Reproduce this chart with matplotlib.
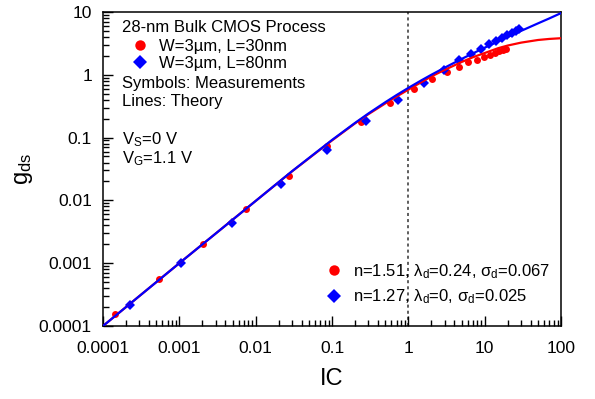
import matplotlib
matplotlib.use('Agg')
import matplotlib.pyplot as plt
import numpy as np
from matplotlib.lines import Line2D

plt.rcParams['font.family'] = ['Liberation Sans', 'DejaVu Sans']
plt.rcParams['mathtext.fontset'] = 'custom'
plt.rcParams['mathtext.rm'] = 'Liberation Sans'
plt.rcParams['mathtext.it'] = 'Liberation Sans'
plt.rcParams['mathtext.default'] = 'regular'

# measurements, W=3um L=30nm
ic_30 = [1.44e-4, 5.42e-4, 2.05e-3, 7.48e-3, 0.0274, 0.0863, 0.240, 0.577, 1.19,
         2.05, 3.22, 4.63, 6.08, 7.98, 9.85, 11.8, 13.7, 15.5, 17.5, 19.1]
gds_30 = [1.55e-4, 5.6e-4, 2.02e-3, 7.3e-3, 0.0245, 0.0735, 0.177, 0.356, 0.594,
          0.857, 1.11, 1.33, 1.60, 1.72, 1.92, 2.07, 2.22, 2.39, 2.48, 2.58]

# measurements, W=3um L=80nm
ic_80 = [2.26e-4, 1.05e-3, 4.91e-3, 0.0215, 0.0863, 0.280, 0.734, 1.61, 2.94,
         4.63, 6.65, 9.0, 11.5, 14.2, 16.9, 19.7, 22.9, 25.9, 28.3]
gds_80 = [2.16e-4, 1.0e-3, 4.37e-3, 0.0182, 0.0635, 0.184, 0.397, 0.740, 1.19,
          1.72, 2.14, 2.58, 3.09, 3.45, 3.85, 4.30, 4.63, 4.98, 5.36]

# theory curves
ic_th = [1e-4, 1e-3, 1e-2, 0.03, 0.1, 0.2, 0.3, 0.5, 0.7, 1, 1.5, 2, 3, 5, 7,
         10, 15, 20, 30, 50, 70, 100]
gds_th_80 = [1e-4, 1e-3, 0.0098, 0.0292, 0.0916, 0.171, 0.242, 0.366, 0.475, 0.618,
             0.823, 1.0, 1.30, 1.79, 2.19, 2.70, 3.40, 4.0, 5.0, 6.59, 7.88, 9.6]
gds_th_30 = [1e-4, 1e-3, 0.0098, 0.029, 0.090, 0.168, 0.236, 0.35, 0.45, 0.58,
             0.77, 0.94, 1.20, 1.60, 1.90, 2.22, 2.65, 2.92, 3.25, 3.58, 3.72, 3.82]

ticks = [1e-4, 1e-3, 1e-2, 1e-1, 1, 10, 100]
tick_labels = ['0.0001', '0.001', '0.01', '0.1', '1', '10', '100']

fig = plt.figure(figsize=(5.95, 3.99), dpi=100)
ax = fig.add_axes([0.1731, 0.183, 0.7698, 0.787])

ax.plot(ic_30, gds_30, 'o', color='red', markersize=5, markeredgewidth=0, zorder=2)
ax.plot(ic_80, gds_80, 'D', color='blue', markersize=5, markeredgewidth=0, zorder=3)
ax.plot(ic_th, gds_th_30, '-', color='red', lw=1.6, zorder=4)
ax.plot(ic_th, gds_th_80, '-', color='blue', lw=1.6, zorder=5)
ax.axvline(1, color='#333333', ls=(0, (2, 2)), lw=1.1, zorder=1)

ax.set_xscale('log')
ax.set_yscale('log')
ax.set_xlim(1e-4, 100)
ax.set_ylim(1e-4, 10)
ax.set_xticks(ticks)
ax.set_xticklabels(tick_labels)
ax.set_yticks(ticks[:6])
ax.set_yticklabels(tick_labels[:6])
ax.tick_params(which='both', direction='in', top=False, right=False, width=1)
ax.tick_params(which='major', length=7, labelsize=12.6)
ax.tick_params(axis='x', which='major', pad=10.5)
ax.tick_params(axis='y', which='major', pad=8)
ax.tick_params(which='minor', length=4)
for s in ax.spines.values():
    s.set_linewidth(1.1)

ax.set_xlabel('IC', fontsize=17, labelpad=9)
ax.set_ylabel('$g_{ds}$', fontsize=17, labelpad=3)

fs = 12
ax.text(0.041, 0.949, '28-nm Bulk CMOS Process', transform=ax.transAxes,
        fontsize=fs, va='center')
ax.text(0.041, 0.771, 'Symbols: Measurements', transform=ax.transAxes,
        fontsize=fs, va='center')
ax.text(0.041, 0.714, 'Lines: Theory', transform=ax.transAxes,
        fontsize=fs, va='center')
ax.text(0.041, 0.593, '$V_S$=0 V', transform=ax.transAxes, fontsize=fs, va='center')
ax.text(0.041, 0.532, '$V_G$=1.1 V', transform=ax.transAxes, fontsize=fs, va='center')

h30 = Line2D([], [], ls='', marker='o', color='red', markersize=7.5, markeredgewidth=0)
h80 = Line2D([], [], ls='', marker='D', color='blue', markersize=7, markeredgewidth=0)

leg1 = ax.legend([h30, h80], ['W=3µm, L=30nm', 'W=3µm, L=80nm'],
                 loc='upper left', bbox_to_anchor=(0.0627, 0.914), frameon=False,
                 fontsize=fs, handlelength=1.0, handletextpad=0.64,
                 labelspacing=0.11, borderpad=0, borderaxespad=0)
ax.add_artist(leg1)

ax.legend([h30, h80],
          ['n=1.51, $\\lambda_d$=0.24, $\\sigma_d$=0.067',
           'n=1.27, $\\lambda_d$=0, $\\sigma_d$=0.025'],
          loc='upper left', bbox_to_anchor=(0.486, 0.203), frameon=False,
          fontsize=fs, handlelength=1.0, handletextpad=0.64,
          labelspacing=0.40, borderpad=0, borderaxespad=0)

fig.savefig('out.png', dpi=100)
